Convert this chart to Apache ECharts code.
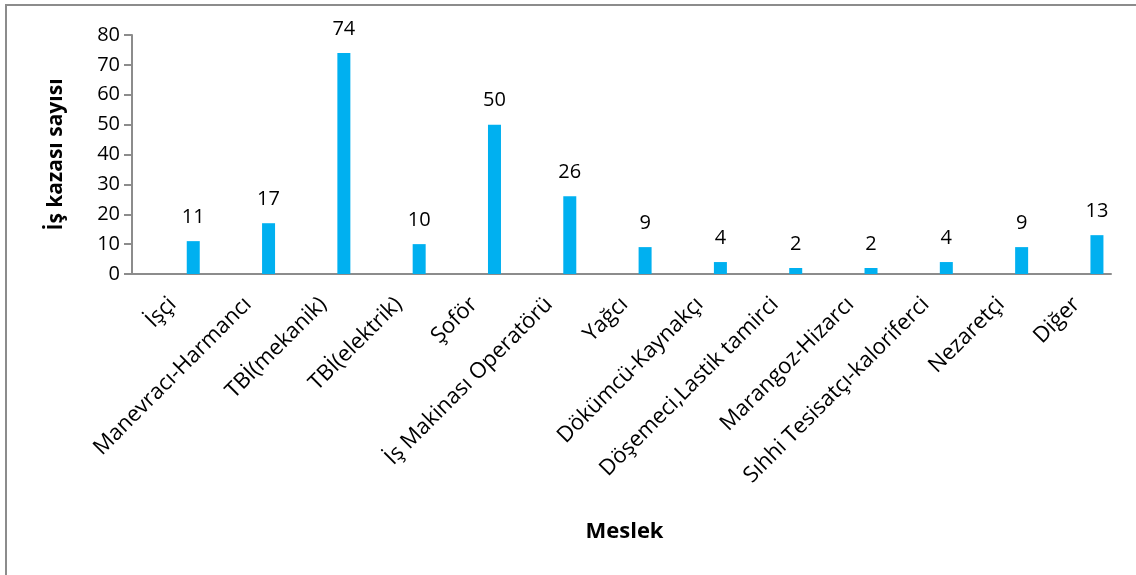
<!DOCTYPE html>
<html>
<head>
<meta charset="utf-8">
<style>
  html, body { margin: 0; padding: 0; background: #fff; }
  #chart { width: 1136px; height: 575px; }
</style>
<script src="https://cdn.jsdelivr.net/npm/echarts@6/dist/echarts.min.js"></script>
</head>
<body>
<div id="chart"></div>
<script>
// Occupations on the horizontal axis
const categories = [
  'İşçi', 'Manevracı-Harmancı', 'TBİ(mekanik)', 'TBİ(elektrik)', 'Şoför',
  'İş Makinası Operatörü', 'Yağcı', 'Dökümcü-Kaynakçı', 'Döşemeci,Lastik tamirci',
  'Marangoz-Hizarcı', 'Sıhhi Tesisatçı-kaloriferci', 'Nezaretçi', 'Diğer'
];
// Number of work accidents per occupation
const accidents = [11, 17, 74, 10, 50, 26, 9, 4, 2, 2, 4, 9, 13];
// Value axis range
const yMin = 0, yMax = 80, yStep = 10;

const FONT = 'Open Sans';
const chart = echarts.init(document.getElementById('chart'), null, { renderer: 'canvas' });

chart.setOption({
  animation: false,
  backgroundColor: '#ffffff',
  textStyle: { fontFamily: FONT },
  graphic: [{
    type: 'rect',
    shape: { x: 6, y: 5, width: 1150, height: 600 },
    style: { fill: 'none', stroke: '#8c8c8c', lineWidth: 2 },
    silent: true
  }],
  grid: [
    { left: 132, right: 25, top: 35, bottom: 301 },
    // second grid only carries the category labels, nudged right of the band centres
    { left: 135, right: 22, top: 35, bottom: 301 }
  ],
  xAxis: [{
    type: 'category',
    gridIndex: 0,
    data: categories,
    axisLine: { lineStyle: { color: '#8c8c8c', width: 2 } },
    axisTick: { show: false },
    axisLabel: { show: false }
  }, {
    type: 'category',
    gridIndex: 1,
    data: categories,
    axisLine: { show: false },
    axisTick: { show: false },
    axisLabel: {
      interval: 0,
      rotate: 45,
      margin: 27,
      color: '#000',
      fontFamily: FONT,
      fontSize: 22
    },
    name: 'Meslek',
    nameLocation: 'middle',
    nameGap: 247,
    nameTextStyle: { fontFamily: FONT, fontWeight: 'bold', fontSize: 22, color: '#000' }
  }],
  yAxis: [{
    type: 'value',
    gridIndex: 0,
    min: yMin, max: yMax, interval: yStep,
    splitLine: { show: false },
    axisLine: { show: true, lineStyle: { color: '#8c8c8c', width: 2 } },
    axisTick: { show: true, length: 8, lineStyle: { color: '#8c8c8c', width: 2 } },
    axisLabel: { color: '#000', fontFamily: FONT, fontSize: 20, margin: 12 },
    name: 'İş kazası sayısı',
    nameLocation: 'middle',
    nameGap: 65,
    nameTextStyle: { fontFamily: FONT, fontWeight: 'bold', fontSize: 21, color: '#000' }
  }, {
    type: 'value',
    gridIndex: 1,
    min: yMin, max: yMax,
    show: false
  }],
  series: [{
    // empty slot that shifts the visible bar to the right in each band
    type: 'bar',
    xAxisIndex: 0, yAxisIndex: 0,
    data: categories.map(() => '-'),
    barWidth: 13,
    barGap: '263%',
    silent: true
  }, {
    type: 'bar',
    xAxisIndex: 0, yAxisIndex: 0,
    data: accidents,
    barWidth: 13,
    barGap: '263%',
    itemStyle: { color: '#00b0f0' },
    label: {
      show: true,
      position: 'top',
      distance: 14,
      color: '#000',
      fontFamily: FONT,
      fontSize: 20
    }
  }]
});
</script>
</body>
</html>
